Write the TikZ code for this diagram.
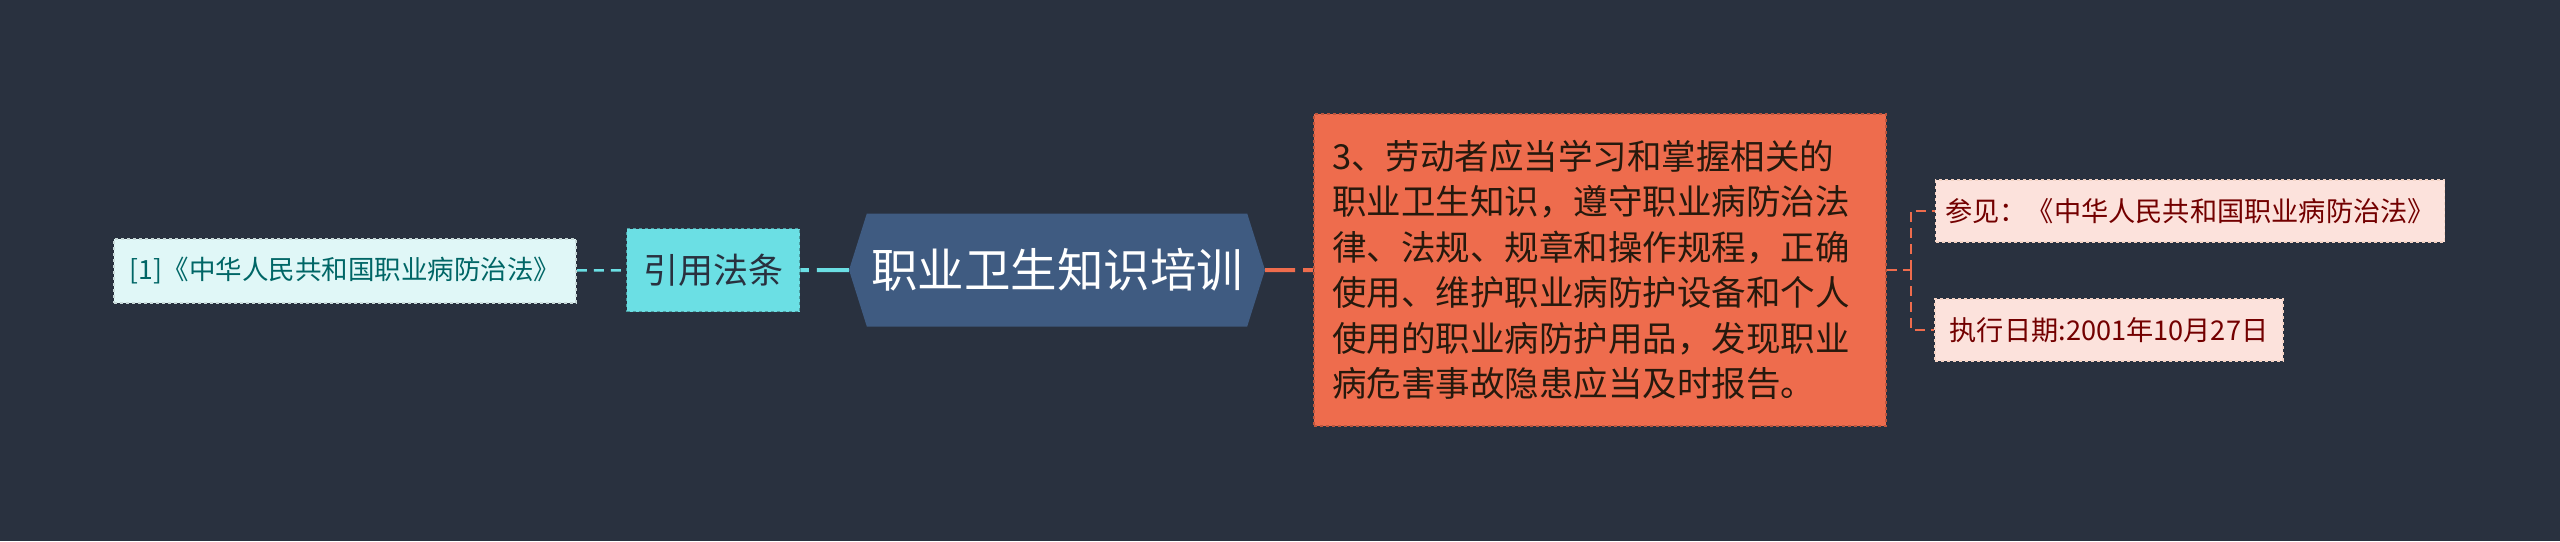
\documentclass[tikz,border=0pt]{standalone}
\usepackage{fontspec}
\setmainfont{Noto Sans CJK SC}
\usepackage{tikz}
\usetikzlibrary{shapes.symbols}
\definecolor{bgcol}{HTML}{29313F}
\definecolor{rootcol}{HTML}{3F5B81}
\definecolor{citecol}{HTML}{6BDFE4}
\definecolor{litcol}{HTML}{E0F7F7}
\definecolor{artcol}{HTML}{EE6C4D}
\definecolor{notecol}{HTML}{FCE2DC}

\begin{document}
\begin{tikzpicture}
	[x=1pt,y=-1pt,
	every node/.style={inner sep=0pt},
	rootbox/.style={shape=signal, signal to=west and east, signal pointer angle=145,
		fill=rootcol, text=white, minimum width=416pt, minimum height=113pt,
		font=\fontsize{46.5}{50}\selectfont},
	citebox/.style={fill=citecol, draw=citecol!70!black, dashed, line width=1.5pt,
		text=bgcol, minimum width=173pt, minimum height=83pt,
		font=\fontsize{35}{40}\selectfont},
	litbox/.style={fill=litcol, draw=litcol!75!gray, dashed, line width=1.5pt,
		text=teal!80!black, minimum width=462pt, minimum height=64pt,
		font=\fontsize{26.5}{30}\selectfont},
	artbox/.style={fill=artcol, draw=artcol!80!black, dashed, line width=1.5pt,
		text=black!80!brown, text width=536pt, align=left, inner xsep=18pt,
		minimum height=312pt, font=\fontsize{34.5}{45.5}\selectfont},
	notebox/.style={fill=notecol, draw=notecol!85!brown, dashed, line width=1.5pt,
		text=red!45!black, minimum height=62pt, font=\fontsize{27.2}{30}\selectfont},
	cyanlink/.style={draw=citecol, line width=4pt},
	orangelink/.style={draw=artcol, line width=2.5pt, dash pattern=on 10pt off 6pt}]
	\fill[bgcol] (0,0) rectangle (2560,541);
	% centre and left branch
	\node[rootbox] (root) at (1057,270) {职业卫生知识培训};
	\node[citebox] (cite) at (713,270) {引用法条};
	\node[litbox] (lit) at (345,271) {[1]《中华人民共和国职业病防治法》};
	% right branch
	\node[artbox] (art) at (1600,270) {3、劳动者应当学习和掌握相关的\\职业卫生知识，遵守职业病防治法\\律、法规、规章和操作规程，正确\\使用、维护职业病防护设备和个人\\使用的职业病防护用品，发现职业\\病危害事故隐患应当及时报告。};
	\node[notebox, minimum width=509pt] (see) at (2190,211) {参见：《中华人民共和国职业病防治法》};
	\node[notebox, minimum width=348pt] (date) at (2109,330) {执行日期:2001年10月27日};
	% links
	\draw[cyanlink, dash pattern=on 32pt off 8pt on 10pt off 8pt] (root) -- (cite);
	\draw[cyanlink, line width=2.5pt, dash pattern=on 10pt off 7pt] (lit) -- (cite);
	\draw[orangelink, line width=4pt, dash pattern=on 30pt off 8pt on 10pt off 8pt] (root) -- (art);
	\draw[orangelink] (art.east) -- ++(24,0) coordinate (fork);
	\draw[orangelink] (fork) |- (see.west);
	\draw[orangelink] (fork) |- (date.west);
\end{tikzpicture}
\end{document}
